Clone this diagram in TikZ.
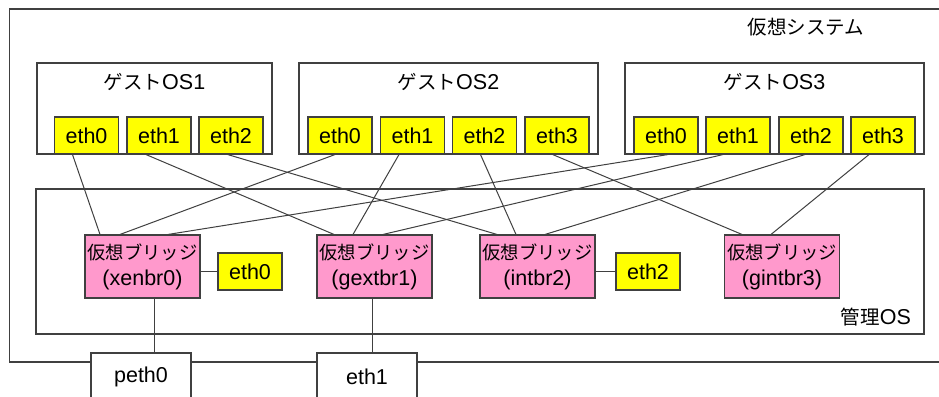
\documentclass[tikz,border=0pt]{standalone}
\usepackage{fontspec}
\setmainfont{Liberation Sans}
\newfontfamily\jp{Noto Sans CJK JP}
\definecolor{lc}{RGB}{64,64,64}
\definecolor{yel}{RGB}{255,255,0}
\definecolor{pnk}{RGB}{255,153,204}
\tikzset{
  box/.style={draw=lc, line width=1.1pt, fill=white, inner sep=0pt},
  ethbox/.style={draw=lc, line width=1.1pt, fill=yel, minimum width=64pt, minimum height=37pt, inner sep=0pt, font=\fontsize{21.5}{22}\selectfont},
  bridge/.style={draw=lc, fill=pnk, line width=1.1pt, minimum width=115pt, minimum height=63pt, inner sep=0pt, align=center, font=\fontsize{21.5}{26}\selectfont},
  lbl/.style={inner sep=0pt, font=\fontsize{21.5}{22}\selectfont},
  wire/.style={draw=lc, line width=1pt},
}
\newcommand{\brtxt}[1]{{\jp\fontsize{18.3}{26}\selectfont 仮想ブリッジ}\\(#1)}
\newcommand{\jpt}[1]{{\jp\fontsize{19.5}{22}\selectfont #1}}
\begin{document}
\begin{tikzpicture}[x=1pt,y=-1pt]
\useasboundingbox (0,0) rectangle (939,396);
\clip (0,0) rectangle (939,396);
\fill[white] (0,0) rectangle (939,396);
% outer system box
\node[box, minimum width=950.5pt, minimum height=353pt] (sys) at (484.75,185.5) {};
\node[lbl] (syslbl) at (806,27) {\jpt{仮想システム}};
% guest OS boxes
\node[box, minimum width=235pt, minimum height=91pt] (g1) at (154.5,108.5) {};
\node[box, minimum width=299pt, minimum height=91pt] (g2) at (448.5,108.5) {};
\node[box, minimum width=299pt, minimum height=91pt] (g3) at (774.5,108.5) {};
\node[lbl] (g1l) at (154.5,82) {\jpt{ゲスト}OS1};
\node[lbl] (g2l) at (448.5,82) {\jpt{ゲスト}OS2};
\node[lbl] (g3l) at (774.5,82) {\jpt{ゲスト}OS3};
% management OS
\node[box, minimum width=888pt, minimum height=145pt] (mgmt) at (480,261.5) {};
\node[lbl] (mgmtl) at (876,317) {\jpt{管理}OS};
% guest eth nodes
\node[ethbox] (a0) at (86.5,135.5) {eth0};
\node[ethbox] (a1) at (159,135.5) {eth1};
\node[ethbox] (a2) at (231,135.5) {eth2};
\node[ethbox] (b0) at (340,135.5) {eth0};
\node[ethbox] (b1) at (412.5,135.5) {eth1};
\node[ethbox] (b2) at (484.5,135.5) {eth2};
\node[ethbox] (b3) at (557,135.5) {eth3};
\node[ethbox] (c0) at (666,135.5) {eth0};
\node[ethbox] (c1) at (738,135.5) {eth1};
\node[ethbox] (c2) at (811,135.5) {eth2};
\node[ethbox] (c3) at (883,135.5) {eth3};
% bridges
\node[bridge] (br0) at (142.5,266.5) {\brtxt{xenbr0}};
\node[bridge] (br1) at (374.5,266.5) {\brtxt{gextbr1}};
\node[bridge] (br2) at (537.5,266.5) {\brtxt{intbr2}};
\node[bridge] (br3) at (782,266.5) {\brtxt{gintbr3}};
% wires guest -> bridge
\draw[wire] ([xshift=-14pt]a0.south) -- ([xshift=-42.5pt]br0.north);
\draw[wire] ([xshift=-13pt]a1.south) -- ([xshift=-40.5pt]br1.north);
\draw[wire] ([xshift=-3.3pt]a2.south) -- ([xshift=-40.5pt]br2.north);
\draw[wire] ([xshift=-5pt]b0.south) -- ([xshift=-22.5pt]br0.north);
\draw[wire] ([xshift=-13.5pt]b1.south) -- ([xshift=-21.5pt]br1.north);
\draw[wire] ([xshift=-4pt]b2.south) -- ([xshift=-21.5pt]br2.north);
\draw[wire] ([xshift=-4.3pt]b3.south) -- ([xshift=-40pt]br3.north);
\draw[wire] ([xshift=2pt]c0.south) -- ([xshift=25.5pt]br0.north);
\draw[wire] ([xshift=-15pt]c1.south) -- ([xshift=8.5pt]br1.north);
\draw[wire] ([xshift=-6pt]c2.south) -- ([xshift=7.5pt]br2.north);
\draw[wire] ([xshift=-14pt]c3.south) -- ([xshift=-11pt]br3.north);
% side eth nodes
\node[ethbox] (x0) at (250,271.5) {eth0};
\node[ethbox] (x2) at (648,271.5) {eth2};
\draw[wire] (br0.east |- x0.west) -- (x0.west);
\draw[wire] (br2.east |- x2.west) -- (x2.west);
% physical nics
\node[box, lbl, minimum width=100pt, minimum height=48pt] (peth) at (141,377) {peth0};
\node[box, lbl, minimum width=100pt, minimum height=48pt] (pe1) at (367,377) {eth1};
\draw[wire] ([xshift=11.5pt]br0.south) -- ([xshift=13pt]peth.north);
\draw[wire] ([xshift=-2.5pt]br1.south) -- ([xshift=5pt]pe1.north);
\end{tikzpicture}
\end{document}
